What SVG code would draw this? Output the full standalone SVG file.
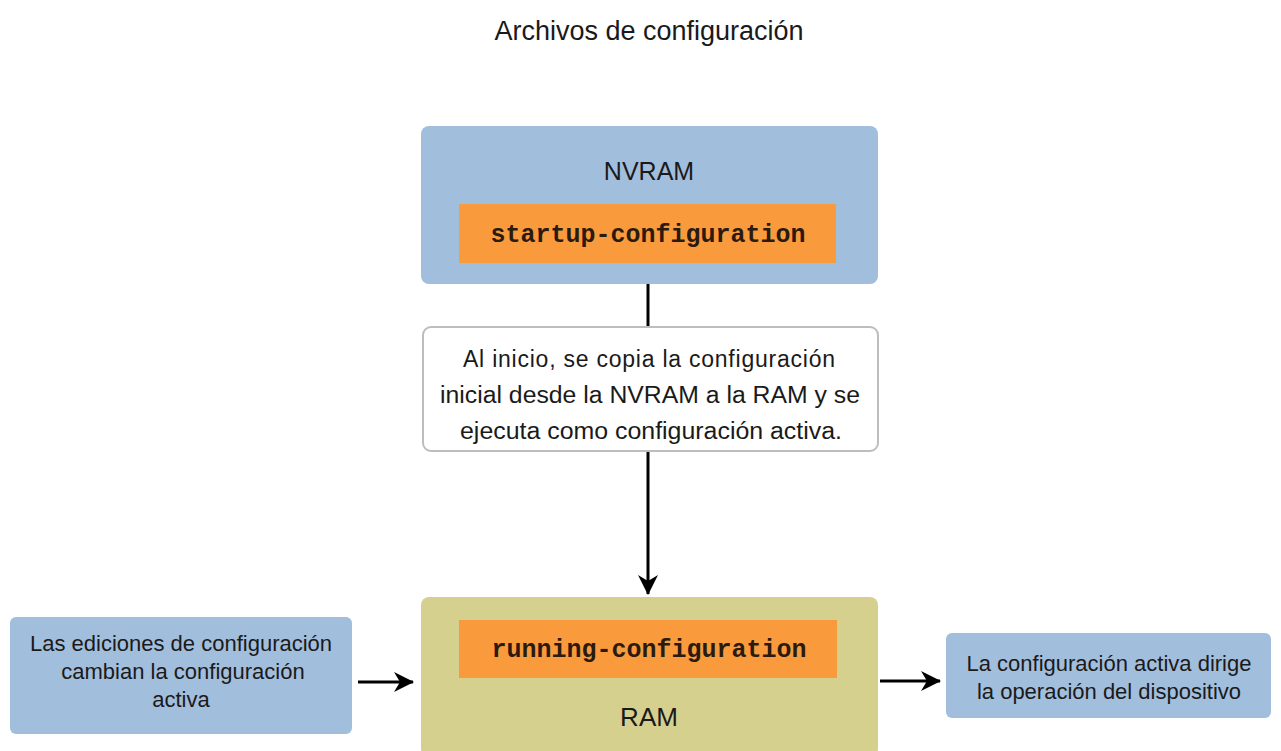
<svg xmlns="http://www.w3.org/2000/svg" width="1281" height="751" viewBox="0 0 1281 751">
<defs>
<style>
.sans{font-family:"Liberation Sans",Arial,sans-serif;fill:#1a1a1a;text-anchor:middle}
.mono{font-family:"Liberation Mono","Courier New",monospace;font-weight:bold;fill:#2a1a10;text-anchor:middle;font-size:25px}
.blue{fill:#a2bedd}
.orange{fill:#f99b3c}
.line{stroke:#000;stroke-width:3;fill:none}
</style>
<marker id="ah" viewBox="0 0 20 20" refX="19" refY="10" markerWidth="20" markerHeight="20" markerUnits="userSpaceOnUse" orient="auto">
<path d="M0,0 L20,10 L0,20 L6,10 Z" fill="#000"/>
</marker>
</defs>
<rect width="1281" height="751" fill="#fff"/>
<text class="sans" x="649" y="40" font-size="27">Archivos de configuración</text>

<g id="connectors">
<line class="line" x1="648" y1="284" x2="648" y2="327"/>
<line class="line" x1="648" y1="451" x2="648" y2="594" marker-end="url(#ah)"/>
<line class="line" x1="358" y1="682" x2="413" y2="682" marker-end="url(#ah)"/>
<line class="line" x1="880" y1="681" x2="940" y2="681" marker-end="url(#ah)"/>
</g>

<g id="nvram">
<rect class="blue" x="421" y="126" width="457" height="158" rx="8"/>
<text class="sans" x="649" y="180" font-size="25" fill="#1f2a3a">NVRAM</text>
<rect class="orange" x="459" y="204" width="377" height="59"/>
<text class="mono" x="648" y="242">startup-configuration</text>
</g>

<g id="note">
<rect x="423" y="327" width="455" height="124" rx="8" fill="#fff" stroke="#bdbdbd" stroke-width="2"/>
<text class="sans" font-size="23" lengthAdjust="spacingAndGlyphs"><tspan x="649" y="367" textLength="372">Al inicio, se copia la configuración</tspan></text>
<text class="sans" font-size="23"><tspan x="650" y="403" textLength="420" lengthAdjust="spacingAndGlyphs">inicial desde la NVRAM a la RAM y se</tspan></text>
<text class="sans" font-size="23"><tspan x="651" y="439" textLength="382" lengthAdjust="spacingAndGlyphs">ejecuta como configuración activa.</tspan></text>
</g>

<g id="ram">
<rect x="421" y="597" width="457" height="160" rx="8" fill="#d6d08e"/>
<rect class="orange" x="459" y="620" width="378" height="58"/>
<text class="mono" x="649" y="657">running-configuration</text>
<text class="sans" x="649" y="726" font-size="26">RAM</text>
</g>

<g id="edits">
<rect class="blue" x="10" y="617" width="342" height="117" rx="6"/>
<text class="sans" font-size="22"><tspan x="181" y="651">Las ediciones de configuración</tspan><tspan x="183" y="679">cambian la configuración</tspan><tspan x="181" y="707">activa</tspan></text>
</g>

<g id="operation">
<rect class="blue" x="946" y="633" width="325" height="85" rx="6"/>
<text class="sans" font-size="22"><tspan x="1109" y="671">La configuración activa dirige</tspan><tspan x="1109" y="699">la operación del dispositivo</tspan></text>
</g>
</svg>
